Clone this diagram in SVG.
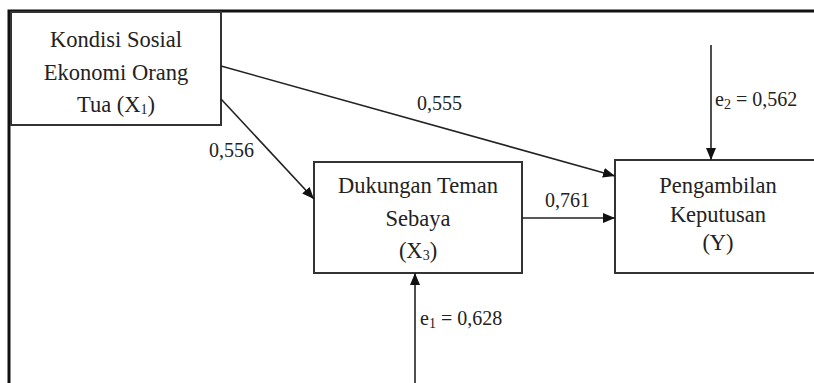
<svg xmlns="http://www.w3.org/2000/svg" width="814" height="383" viewBox="0 0 814 383">
<style>
.box{fill:#fff;stroke:#333;stroke-width:2}
.t{font-family:"Liberation Serif","Times New Roman",serif;font-size:22.5px;fill:#222;text-anchor:middle}
.n{font-family:"Liberation Serif","Times New Roman",serif;font-size:20px;fill:#222}
.e{stroke:#222;stroke-width:1.6;fill:none;marker-end:url(#ah)}
.sub{font-size:14px}
</style>
<defs>
<marker id="ah" viewBox="0 0 12 10" refX="12" refY="5" markerWidth="12" markerHeight="10" markerUnits="userSpaceOnUse" orient="auto">
<path d="M0,0 L12,5 L0,10 Z" fill="#111"/>
</marker>
</defs>
<rect width="814" height="383" fill="#fff"/>
<path d="M9,383 V11 H814" fill="none" stroke="#111" stroke-width="3"/>
<g id="node-x1">
<rect class="box" x="11" y="12" width="210" height="113"/>
<text class="t" x="116" y="47">Kondisi Sosial</text>
<text class="t" x="116" y="80">Ekonomi Orang</text>
<text class="t" x="116" y="112">Tua (X<tspan class="sub" dy="2">1</tspan><tspan dy="-2">)</tspan></text>
</g>
<g id="node-x3">
<rect class="box" x="314" y="162" width="208" height="111"/>
<text class="t" x="418" y="193">Dukungan Teman</text>
<text class="t" x="418" y="226">Sebaya</text>
<text class="t" x="418" y="258">(X<tspan class="sub" dy="2">3</tspan><tspan dy="-2">)</tspan></text>
</g>
<g id="node-y">
<rect class="box" x="615" y="160" width="206" height="113"/>
<text class="t" x="718" y="193">Pengambilan</text>
<text class="t" x="718" y="222">Keputusan</text>
<text class="t" x="718" y="250">(Y)</text>
</g>
<g id="connectors">
<line class="e" x1="221" y1="66" x2="615" y2="176"/>
<line class="e" x1="221" y1="99" x2="314" y2="199"/>
<line class="e" x1="522" y1="218" x2="615" y2="218"/>
<line class="e" x1="711" y1="45" x2="711" y2="160"/>
<line class="e" x1="415" y1="383" x2="415" y2="273"/>
<text class="n" x="417" y="110">0,555</text>
<text class="n" x="209" y="157">0,556</text>
<text class="n" x="545" y="207">0,761</text>
<text class="n" x="715" y="106">e<tspan class="sub" dy="3">2</tspan><tspan dy="-3"> = 0,562</tspan></text>
<text class="n" x="420" y="325">e<tspan class="sub" dy="3">1</tspan><tspan dy="-3"> = 0,628</tspan></text>
</g>
</svg>
